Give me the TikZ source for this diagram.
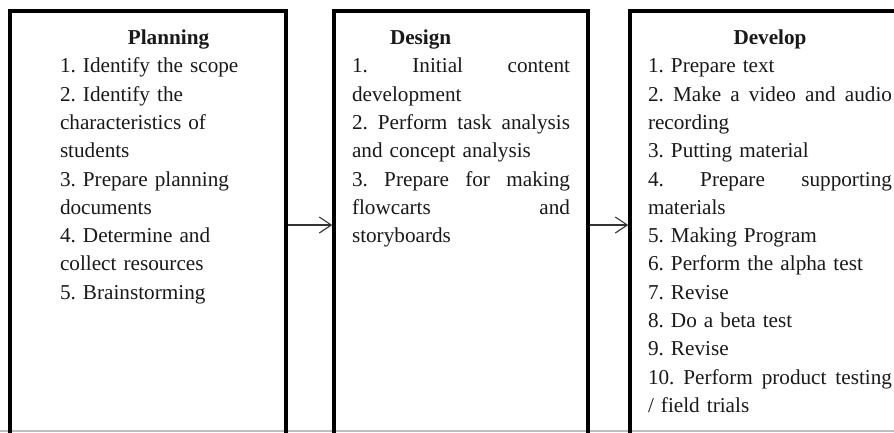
\documentclass[tikz,border=0pt]{standalone}
\usepackage{fontspec}
\setmainfont{Liberation Serif}
\usetikzlibrary{arrows.meta}
\frenchspacing
\newcommand{\jline}[1]{\makebox[\linewidth][l]{#1}}
\begin{document}
\begin{tikzpicture}[x=1pt,y=-1pt,
  stagebox/.style={draw=black, line width=3.5pt, rectangle, inner sep=0pt, minimum height=449pt},
  stagetext/.style={anchor=base west, inner sep=0pt, outer sep=0pt, align=left,
    font=\fontsize{21.2}{28.3}\selectfont\frenchspacing, text=black!90},
  arr/.style={draw=black!80, line width=1.1pt, -{Straight Barb[length=12pt,width=16pt,line width=1.1pt]}}
]
\useasboundingbox (0,0) rectangle (894,432);
\clip (0,0) rectangle (894,432);
\fill[white] (0,0) rectangle (894,432);
\draw[black!25, line width=1.5pt] (0,431.2) -- (894,431.2);

\node[stagebox, minimum width=276pt] (b1) at (148,235.5) {};
\node[stagebox, minimum width=254pt] (b2) at (461,235.5) {};
\node[stagebox, minimum width=280pt] (b3) at (770,235.5) {};

\node[stagetext, text width=217pt] (t1) at (60,44.5) {%
\makebox[\linewidth]{\bfseries Planning}\\
1. Identify the scope\\
2. Identify the\\
characteristics of\\
students\\
3. Prepare planning\\
documents\\
4. Determine and\\
collect resources\\
5. Brainstorming};

\node[stagetext, text width=218pt] (t2) at (352,44.5) {%
\hspace*{38pt}\textbf{Design}\\
\jline{1.\hfill Initial\hfill content}\\
development\\
\jline{2.\hfill Perform\hfill task\hfill analysis}\\
and concept analysis\\
\jline{3.\hfill Prepare\hfill for\hfill making}\\
\jline{flowcarts\hfill and}\\
storyboards};

\node[stagetext, text width=244pt] (t3) at (648,44.5) {%
\makebox[\linewidth]{\bfseries Develop}\\
1. Prepare text\\
\jline{2.\hfill Make\hfill a\hfill video\hfill and\hfill audio}\\
recording\\
3. Putting material\\
\jline{4.\hfill Prepare\hfill supporting}\\
materials\\
5. Making Program\\
6. Perform the alpha test\\
7. Revise\\
8. Do a beta test\\
9. Revise\\
\jline{10.\hfill Perform\hfill product\hfill testing}\\
/ field trials};

\coordinate (ay) at (0,225);
\draw[arr] (b1.east |- ay) -- (b2.west |- ay);
\draw[arr] (b2.east |- ay) -- (b3.west |- ay);
\end{tikzpicture}
\end{document}
